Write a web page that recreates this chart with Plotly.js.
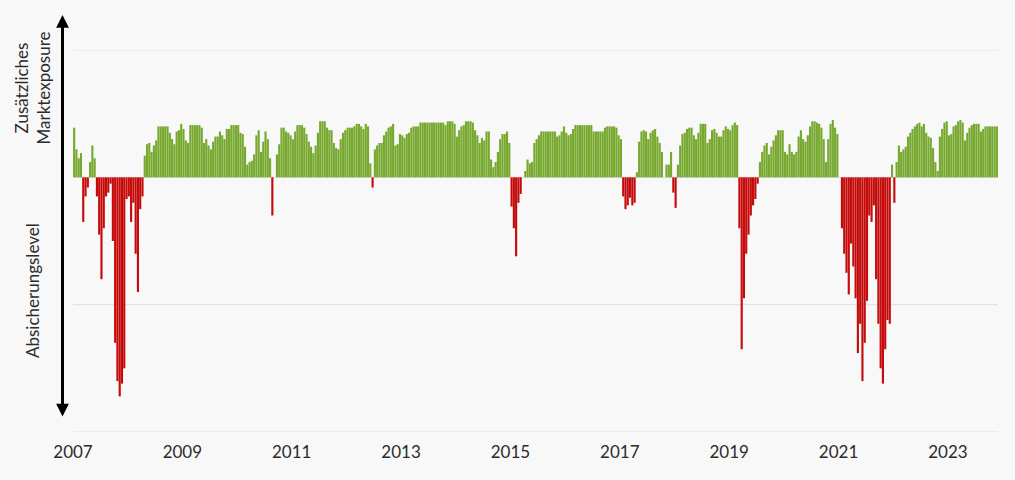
<!DOCTYPE html>
<html>
<head>
<meta charset="utf-8">
<script src="https://cdn.plot.ly/plotly-3.0.1.min.js"></script>
<style>html,body{margin:0;padding:0;background:#f8f8f8;}#chart{width:1015px;height:480px;}</style>
</head>
<body>
<div id="chart"></div>
<script>
// Semi-monthly positioning values, starting January 2007
const startYear = 2007;
const periodsPerYear = 24;
const exposure = [
 0.39,0.22,0.15,0.19,-0.35,-0.15,-0.08,0.12,0.25,0.15,
 -0.15,-0.45,-0.8,-0.4,-0.15,-0.12,-0.05,-0.5,-1.3,-1.6,
 -1.72,-1.62,-1.5,-0.17,-0.15,-0.35,-0.2,-0.6,-0.9,-0.25,
 -0.15,0.17,0.26,0.27,0.2,0.25,0.29,0.4,0.4,0.4,
 0.4,0.4,0.35,0.3,0.26,0.36,0.37,0.42,0.38,0.29,
 0.27,0.41,0.41,0.41,0.41,0.41,0.39,0.27,0.3,0.25,
 0.22,0.28,0.32,0.32,0.36,0.33,0.3,0.38,0.38,0.41,
 0.41,0.41,0.41,0.35,0.34,0.24,0.1,0.12,0.13,0.18,
 0.33,0.37,0.2,0.28,0.36,0.3,0.15,-0.3,0,0.18,
 0.26,0.39,0.39,0.36,0.35,0.33,0.3,0.36,0.41,0.41,
 0.41,0.39,0.34,0.28,0.24,0.19,0.25,0.35,0.44,0.44,
 0.44,0.39,0.37,0.37,0.27,0.23,0.22,0.3,0.35,0.37,
 0.39,0.39,0.39,0.4,0.42,0.42,0.4,0.38,0.42,0.4,
 0.11,-0.08,0.22,0.25,0.27,0.27,0.33,0.36,0.39,0.4,
 0.42,0.25,0.26,0.34,0.33,0.31,0.34,0.35,0.39,0.4,
 0.4,0.4,0.43,0.43,0.43,0.43,0.43,0.43,0.43,0.43,
 0.43,0.43,0.43,0.41,0.44,0.44,0.44,0.42,0.32,0.37,
 0.4,0.41,0.44,0.44,0.44,0.43,0.37,0.33,0.27,0.31,
 0.29,0.36,0.36,0.14,0.08,0.12,0.2,0.3,0.34,0.34,
 0.36,0.27,-0.23,-0.4,-0.62,-0.2,-0.13,0,0.05,0.14,
 0.11,0.12,0.27,0.3,0.33,0.36,0.36,0.36,0.36,0.36,
 0.36,0.36,0.32,0.33,0.36,0.4,0.35,0.33,0.34,0.38,
 0.41,0.41,0.41,0.41,0.41,0.41,0.41,0.41,0.36,0.36,
 0.36,0.36,0.36,0.39,0.4,0.4,0.4,0.4,0.39,0.33,
 0.3,-0.15,-0.25,-0.22,-0.16,-0.22,-0.2,0.04,0.28,0.36,
 0.37,0.36,0.3,0.35,0.37,0.38,0.32,0.27,0.2,0,
 0.1,0.1,0.2,-0.12,-0.24,0.1,0.25,0.34,0.35,0.38,
 0.39,0.39,0.33,0.3,0.35,0.42,0.42,0.42,0.27,0.3,
 0.37,0.38,0.35,0.32,0.32,0.37,0.4,0.38,0.37,0.41,
 0.43,0.41,-0.4,-1.35,-0.95,-0.6,-0.45,-0.3,-0.22,-0.17,
 -0.05,0.12,0.2,0.25,0.27,0.18,0.24,0.29,0.33,0.37,
 0.37,0.37,0.2,0.18,0.26,0.2,0.18,0.2,0.32,0.37,
 0.3,0.28,0.33,0.4,0.44,0.44,0.43,0.42,0.39,0.3,
 0.12,0.3,0.42,0.45,0.39,0.34,0,-0.4,-0.6,-0.75,
 -0.92,-0.52,-0.7,-0.95,-1.38,-1.15,-1.6,-1.3,-0.97,-0.3,
 -0.35,-0.22,-0.8,-1.15,-1.5,-1.62,-1.35,-1.12,-1.15,0.1,
 -0.2,0.12,0.25,0.2,0.22,0.24,0.32,0.35,0.38,0.4,
 0.42,0.43,0.4,0.42,0.35,0.32,0.31,0.23,0.12,0.05,
 0.32,0.38,0.43,0.44,0.33,0.34,0.4,0.41,0.44,0.45,
 0.43,0.29,0.35,0.39,0.41,0.42,0.42,0.42,0.36,0.38,
 0.4,0.4,0.4,0.4,0.4,0.4
];
const gridLevels = [-2, -1, 0, 1];
const tickYears = [2007,2009,2011,2013,2015,2017,2019,2021,2023];
const tickLabels = ['2007','2009','2011','2013','2015','2017','2019','2021','2023'];
const labelUp = 'Zusätzliches<br>Marktexposure';
const labelDown = 'Absicherungslevel';

const GREEN = '#77a82f';
const RED = '#c40a0a';
const colors = exposure.map(v => v >= 0 ? GREEN : RED);

const trace = {
  type: 'bar',
  y: exposure,
  x0: startYear + 0.5 / periodsPerYear,
  dx: 1 / periodsPerYear,
  marker: {color: colors, line: {width: 0}},
  hoverinfo: 'skip'
};

const FONT = 'Lato, "Open Sans", sans-serif';
const TXT = '#2b2b2b';
const L = 73, R = 17, T = 50, B = 48;
const W = 1015, H = 480;
const pw = W - L - R, ph = H - T - B;
const px2x = p => (p - L) / pw;
const px2y = p => (H - B - p) / ph;

const gridShapes = gridLevels.map(g => ({
  type: 'line', layer: 'below',
  xref: 'paper', x0: 0, x1: 1,
  yref: 'y', y0: g, y1: g,
  line: {color: '#dedede', width: 1}
}));

const layout = {
  width: W, height: H,
  margin: {l: L, r: R, t: T, b: B},
  paper_bgcolor: '#f8f8f8',
  plot_bgcolor: '#f8f8f8',
  bargap: 0.06,
  showlegend: false,
  font: {family: FONT, color: TXT, size: 17},
  xaxis: {
    range: [startYear, startYear + exposure.length / periodsPerYear],
    tickvals: tickYears,
    ticktext: tickLabels,
    showgrid: false,
    zeroline: false,
    showline: false,
    ticks: '',
    ticklabelstandoff: 8,
    tickfont: {family: FONT, size: 17, color: TXT},
    fixedrange: true
  },
  yaxis: {
    range: [-2, 1],
    tickvals: gridLevels,
    showticklabels: false,
    showgrid: false,
    zeroline: false,
    showline: false,
    ticks: '',
    fixedrange: true
  },
  shapes: gridShapes,
  annotations: [
    {
      xref: 'paper', yref: 'paper',
      x: px2x(62.5), y: px2y(15),
      ax: 0, ay: 403,
      text: '',
      showarrow: true,
      arrowhead: 2, startarrowhead: 2,
      arrowside: 'end+start',
      arrowwidth: 3, arrowsize: 0.85, startarrowsize: 0.85,
      arrowcolor: '#000000',
      standoff: 0, startstandoff: 0
    },
    {
      xref: 'paper', yref: 'paper',
      x: px2x(31.5), y: px2y(88),
      xanchor: 'center', yanchor: 'middle',
      text: labelUp, textangle: -90, showarrow: false,
      font: {family: FONT, size: 17, color: TXT}
    },
    {
      xref: 'paper', yref: 'paper',
      x: px2x(32), y: px2y(291),
      xanchor: 'center', yanchor: 'middle',
      text: labelDown, textangle: -90, showarrow: false,
      font: {family: FONT, size: 17, color: TXT}
    }
  ]
};

Plotly.newPlot('chart', [trace], layout, {staticPlot: true, displayModeBar: false});
</script>
</body>
</html>
